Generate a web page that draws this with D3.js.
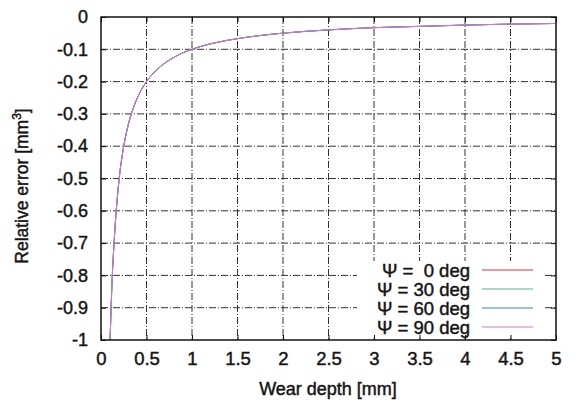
<!DOCTYPE html>
<html lang="en">
<head>
<meta charset="utf-8">
<title>Relative error vs wear depth</title>
<script src="https://cdn.jsdelivr.net/npm/d3@7"></script>
<style>
  body { margin: 0; background: #fff; }
  text { font-family: "Liberation Sans", Arial, sans-serif; fill: #151515; stroke: #151515; stroke-width: 0.45px; white-space: pre; }
</style>
</head>
<body>
<script>
// data
var wearDepth = [0.1, 0.12, 0.15, 0.2, 0.25, 0.3, 0.35, 0.4, 0.5, 0.6, 0.7, 0.8, 0.9, 1.0, 1.25, 1.5, 2.0, 2.5, 3.0, 3.5, 4.0, 4.5, 5.0];
var err0  = [-1.0, -0.83, -0.67, -0.5, -0.4, -0.333, -0.286, -0.25, -0.2, -0.167, -0.143, -0.125, -0.111, -0.1, -0.08, -0.067, -0.05, -0.04, -0.033, -0.029, -0.025, -0.022, -0.02];
var err30 = [-1.0, -0.83, -0.67, -0.5, -0.4, -0.333, -0.286, -0.25, -0.2, -0.167, -0.143, -0.125, -0.111, -0.1, -0.08, -0.067, -0.05, -0.04, -0.033, -0.029, -0.025, -0.022, -0.02];
var err60 = [-1.0, -0.83, -0.67, -0.5, -0.4, -0.333, -0.286, -0.25, -0.2, -0.167, -0.143, -0.125, -0.111, -0.1, -0.08, -0.067, -0.05, -0.04, -0.033, -0.029, -0.025, -0.022, -0.02];
var err90 = [-1.0, -0.83, -0.67, -0.5, -0.4, -0.333, -0.286, -0.25, -0.2, -0.167, -0.143, -0.125, -0.111, -0.1, -0.08, -0.067, -0.05, -0.04, -0.033, -0.029, -0.025, -0.022, -0.02];
var seriesNames = ["\u03A8 =  0 deg", "\u03A8 = 30 deg", "\u03A8 = 60 deg", "\u03A8 = 90 deg"];
var seriesColors = ["#e0303a", "#5fb08a", "#3a7fc8", "#d67ac8"];
var xTicks = [0, 0.5, 1, 1.5, 2, 2.5, 3, 3.5, 4, 4.5, 5];
var yTicks = [0, -0.1, -0.2, -0.3, -0.4, -0.5, -0.6, -0.7, -0.8, -0.9, -1];

var width = 578, height = 403;
var padL = 101, padR = 556, padT = 17, padB = 340;

var svg = d3.select("body").append("svg").attr("width", width).attr("height", height);

var x = d3.scaleLinear().domain([0, 5]).range([padL, padR]);
var y = d3.scaleLinear().domain([-1, 0]).range([padB, padT]);

// grid
var grid = svg.append("g").attr("stroke", "#333").attr("stroke-width", 1)
  .attr("stroke-dasharray", "7,2,1,2");
grid.selectAll(".vg").data(xTicks.slice(1, -1)).enter().append("line")
  .attr("x1", d => x(d)).attr("x2", d => x(d)).attr("y1", padT).attr("y2", padB);
grid.selectAll(".hg").data(yTicks.slice(1, -1)).enter().append("line")
  .attr("x1", padL).attr("x2", padR).attr("y1", d => y(d)).attr("y2", d => y(d));

// curves
var allSeries = [err0, err30, err60, err90];
var line = d3.line().x(d => x(d[0])).y(d => y(d[1])).curve(d3.curveMonotoneX);
allSeries.forEach(function (vals, i) {
  svg.append("path")
    .datum(wearDepth.map((w, j) => [w, vals[j]]))
    .attr("fill", "none")
    .attr("stroke", seriesColors[i])
    .attr("stroke-width", 1)
    .attr("d", line);
});

// legend box (covers grid)
var lg = svg.append("g");
lg.append("rect").attr("x", 357).attr("y", 261).attr("width", 186).attr("height", 76).attr("fill", "#fff");
seriesNames.forEach(function (name, i) {
  var yy = 270 + i * 19;
  lg.append("text").attr("x", 470).attr("y", yy + 7).attr("text-anchor", "end")
    .style("font-size", "18.5px").text(name);
  lg.append("line").attr("x1", 482).attr("x2", 533).attr("y1", yy).attr("y2", yy)
    .attr("stroke", seriesColors[i]).attr("stroke-width", 1.2);
});

// axes
var xAxis = d3.axisBottom(x).tickValues(xTicks).tickFormat(d => String(d)).tickSize(-5).tickPadding(12);
var yAxis = d3.axisLeft(y).tickValues(yTicks).tickFormat(d => String(d)).tickSize(-5).tickPadding(13);
var gx = svg.append("g").attr("transform", "translate(0," + padB + ")").call(xAxis);
var gy = svg.append("g").attr("transform", "translate(" + padL + ",0)").call(yAxis);
svg.append("g").attr("transform", "translate(0," + padT + ")")
  .call(d3.axisTop(x).tickValues(xTicks).tickSize(-5).tickFormat(""));
svg.append("g").attr("transform", "translate(" + padR + ",0)")
  .call(d3.axisRight(y).tickValues(yTicks).tickSize(-5).tickFormat(""));
svg.selectAll(".domain").remove();
svg.selectAll(".tick line").attr("stroke", "#111");
gx.selectAll("text").style("font-size", "18.5px").attr("font-family", null).attr("fill", null);
gy.selectAll("text").style("font-size", "18px").attr("font-family", null).attr("fill", null);

svg.append("rect").attr("x", padL).attr("y", padT).attr("width", padR - padL).attr("height", padB - padT)
  .attr("fill", "none").attr("stroke", "#111").attr("stroke-width", 1.5);

// titles
svg.append("text").attr("x", 328).attr("y", 395).attr("text-anchor", "middle")
  .style("font-size", "18px").text("Wear depth [mm]");
var yt = svg.append("text").attr("transform", "translate(28,186) rotate(-90)")
  .attr("text-anchor", "middle").style("font-size", "17.5px");
yt.append("tspan").text("Relative error [mm");
yt.append("tspan").attr("dy", -7).style("font-size", "12px").text("3");
yt.append("tspan").attr("dy", 7).text("]");
</script>
</body>
</html>
